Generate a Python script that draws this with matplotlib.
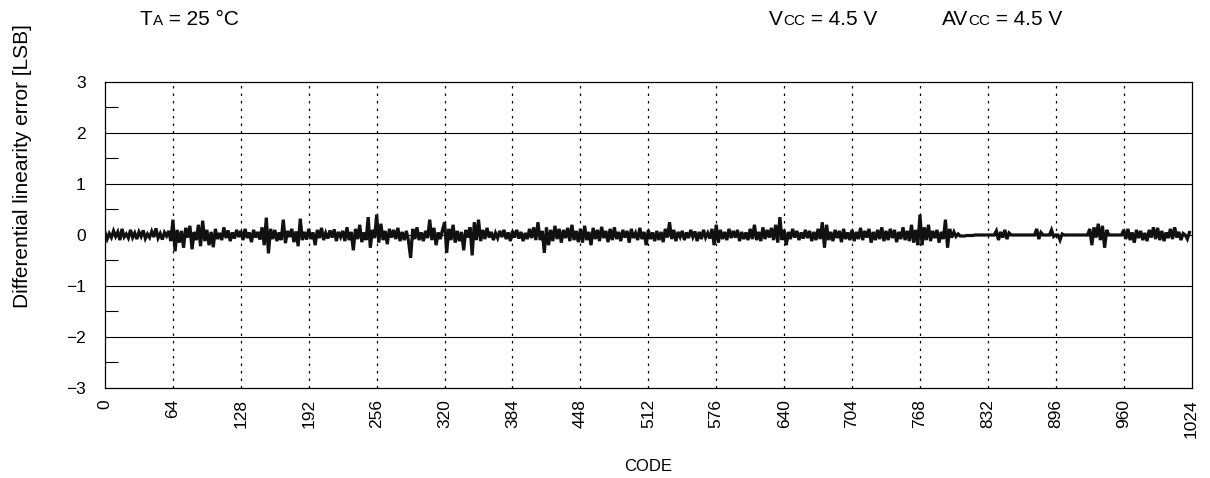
import numpy as np
import matplotlib.pyplot as plt
from matplotlib.ticker import MultipleLocator

plt.rcParams['font.family'] = ['Liberation Sans', 'DejaVu Sans']

# codes sampled every 2 LSB
codes = np.arange(0, 1024, 2)

# DNL [LSB]
dnl = [
    0.05, -0.08, 0.03, -0.05, 0.08, -0.03, 0.06, -0.1, 0.12, -0.04, 0.02, -0.06, 0.1, -0.05, 0.04, -0.08,
    0.06, -0.03, 0.09, -0.07, 0.02, -0.05, 0.07, -0.04, 0.13, -0.06, 0.03, -0.09, 0.05, -0.02, 0.08, -0.12,
    0.3, -0.32, 0.1, -0.15, 0.08, -0.25, 0.14, -0.05, 0.18, -0.28, 0.06, -0.1, 0.2, -0.22, 0.28, -0.12,
    0.1, -0.2, 0.06, -0.24, 0.12, -0.08, 0.04, -0.1, 0.15, -0.06, 0.09, -0.12, 0.05, -0.07, 0.1, -0.04,
    0.08, -0.1, 0.12, -0.06, 0.05, -0.14, 0.1, -0.05, 0.06, -0.09, 0.15, -0.2, 0.34, -0.36, 0.12, -0.08,
    0.1, -0.12, 0.05, -0.1, 0.3, -0.16, 0.08, -0.04, 0.12, -0.14, 0.07, -0.22, 0.32, -0.1, 0.06, -0.09,
    0.12, -0.08, 0.05, -0.2, 0.1, -0.06, 0.14, -0.1, 0.04, -0.07, 0.09, -0.05, 0.11, -0.12, 0.06, -0.04,
    0.08, -0.12, 0.15, -0.1, 0.06, -0.3, 0.12, -0.08, 0.2, -0.14, 0.05, -0.1, 0.35, -0.25, 0.1, -0.06,
    0.4, -0.15, 0.22, -0.1, 0.08, -0.18, 0.12, -0.05, 0.1, -0.08, 0.14, -0.12, 0.06, -0.1, 0.08, -0.12,
    -0.45, 0.12, -0.08, 0.15, -0.1, 0.05, -0.12, 0.08, -0.06, 0.3, -0.1, 0.14, -0.2, 0.05, -0.08, 0.1,
    0.25, -0.35, 0.12, -0.1, 0.2, -0.15, 0.08, -0.12, 0.06, -0.3, 0.1, -0.05, 0.15, -0.4, 0.25, -0.1,
    0.3, -0.12, 0.1, -0.08, 0.14, -0.05, 0.06, -0.1, 0.04, -0.06, 0.08, -0.04, 0.1, -0.08, 0.05, -0.12,
    0.08, -0.05, 0.1, -0.07, 0.06, -0.12, 0.04, -0.08, 0.12, -0.06, 0.15, -0.1, 0.25, -0.1, 0.08, -0.35,
    0.15, -0.2, 0.1, -0.12, 0.18, -0.08, 0.12, -0.15, 0.1, -0.06, 0.14, -0.12, 0.2, -0.1, 0.08, -0.14,
    0.12, -0.15, 0.18, -0.1, 0.06, -0.2, 0.14, -0.08, 0.1, -0.12, 0.16, -0.06, 0.08, -0.14, 0.12, -0.1,
    0.15, -0.08, 0.06, -0.12, 0.1, -0.05, 0.08, -0.15, 0.12, -0.06, 0.04, -0.1, 0.14, -0.08, 0.06, -0.2,
    0.1, -0.08, 0.05, -0.12, 0.08, -0.1, 0.06, -0.14, 0.12, -0.05, 0.25, -0.08, 0.1, -0.12, 0.06, -0.04,
    0.08, -0.1, 0.05, -0.06, 0.1, -0.04, 0.07, -0.12, 0.06, -0.08, 0.1, -0.05, 0.04, -0.07, 0.12, -0.2,
    0.2, -0.15, 0.1, -0.08, 0.06, -0.1, 0.12, -0.06, 0.08, -0.05, 0.1, -0.12, 0.06, -0.08, 0.05, -0.1,
    0.12, -0.08, 0.2, -0.1, 0.06, -0.12, 0.15, -0.08, 0.1, -0.05, 0.14, -0.1, 0.2, -0.15, 0.35, -0.1,
    0.1, -0.2, 0.06, -0.08, 0.12, -0.05, 0.08, -0.1, 0.05, -0.07, 0.1, -0.06, 0.08, -0.12, 0.06, -0.1,
    0.12, -0.08, 0.25, -0.25, 0.2, -0.1, 0.06, -0.12, 0.1, -0.06, 0.08, -0.14, 0.12, -0.08, 0.05, -0.1,
    0.1, -0.12, 0.06, -0.08, 0.14, -0.1, 0.08, -0.05, 0.12, -0.15, 0.06, -0.1, 0.1, -0.08, 0.15, -0.12,
    0.08, -0.1, 0.12, -0.06, 0.1, -0.14, 0.06, -0.08, 0.15, -0.1, 0.08, -0.12, 0.2, -0.15, 0.1, -0.2,
    0.4, -0.2, 0.15, -0.1, 0.2, -0.12, 0.08, -0.06, 0.1, -0.15, 0.06, -0.08, 0.3, -0.25, 0.12, -0.05,
    0.06, -0.03, 0.02, -0.02, -0.02, -0.02, -0.01, -0.01, -0.01, -0.01, 0.0, 0.0, 0.0, 0.0, 0.0, 0.0,
    0.0, 0.0, 0.0, 0.0, 0.08, -0.1, 0.06, -0.05, 0.1, -0.08, 0.04, 0.0, 0.0, 0.0, 0.0, 0.0,
    0.0, 0.0, 0.0, 0.0, 0.0, 0.0, 0.0, 0.12, -0.08, 0.05, 0.0, 0.0, 0.0, 0.0, 0.1, -0.03,
    0.0, 0.0, -0.1, 0.02, 0.0, 0.0, 0.0, 0.0, 0.0, 0.0, 0.0, 0.0, 0.0, 0.0, 0.0, 0.0,
    0.12, -0.2, 0.15, -0.05, 0.22, -0.1, 0.18, -0.25, 0.1, 0.0, 0.0, 0.0, 0.0, 0.0, 0.0, 0.0,
    0.1, -0.08, 0.12, -0.1, 0.05, -0.15, 0.1, -0.06, 0.08, -0.1, 0.04, -0.12, 0.1, -0.05, 0.15, -0.08,
    0.14, -0.1, 0.08, -0.12, 0.05, -0.06, 0.12, -0.08, 0.15, -0.05, 0.06, -0.1, 0.03, 0.0, -0.08, 0.05,
]

xticks = list(range(0, 1025, 64))
yticks = [-3, -2, -1, 0, 1, 2, 3]
ylabels = ['\u22123', '\u22122', '\u22121', '0', '1', '2', '3']

fig = plt.figure(figsize=(12.1, 4.78), dpi=100)
ax = fig.add_axes([0.0868, 0.1883, 0.8980, 0.6402])

ax.plot(codes, dnl, color='#111111', lw=2.3, zorder=3, solid_joinstyle='miter')

ax.set_xlim(0, 1024)
ax.set_ylim(-3, 3)
ax.set_xticks(xticks)
ax.set_xticklabels([str(t) for t in xticks], rotation=90, fontsize=12.5)
ax.set_yticks(yticks)
ax.set_yticklabels(ylabels, fontsize=12.5)
ax.yaxis.set_minor_locator(MultipleLocator(0.5))
ax.tick_params(axis='x', length=0, pad=8)
ax.tick_params(axis='y', which='major', length=0, pad=14)
ax.tick_params(axis='y', which='minor', direction='in', length=9, width=0.8)

for y in [-2, -1, 0, 1, 2]:
    ax.axhline(y, color='black', lw=0.8, zorder=1)
for x in xticks[1:-1]:
    ax.axvline(x, color='black', lw=0.9, ls=(0, (2, 4)), zorder=1)

for s in ax.spines.values():
    s.set_linewidth(0.9)

ax.set_xlabel('CODE', fontsize=12)
ax.xaxis.set_label_coords(0.5, -0.232)
ax.set_ylabel('Differential linearity error [LSB]', fontsize=15)
ax.yaxis.set_label_coords(-0.067, 0.726)


def small_caps(x, y, parts):
    # draw text pieces one after another, smaller pieces for the subscript-like letters
    r = fig.canvas.get_renderer()
    for txt, size in parts:
        t = fig.text(x, y, txt, fontsize=size, va='baseline', ha='left')
        bb = t.get_window_extent(renderer=r)
        x += bb.width / fig.bbox.width


ybase = 1 - 25 / 478
small_caps(140 / 1210, ybase, [('T', 15), ('A', 11), (' = 25 \u00b0C', 15)])
small_caps(769 / 1210, ybase, [('V', 15), ('CC', 11), (' = 4.5 V', 15)])
small_caps(942 / 1210, ybase, [('AV', 15), ('CC', 11), (' = 4.5 V', 15)])

fig.savefig('out.png', dpi=100)
